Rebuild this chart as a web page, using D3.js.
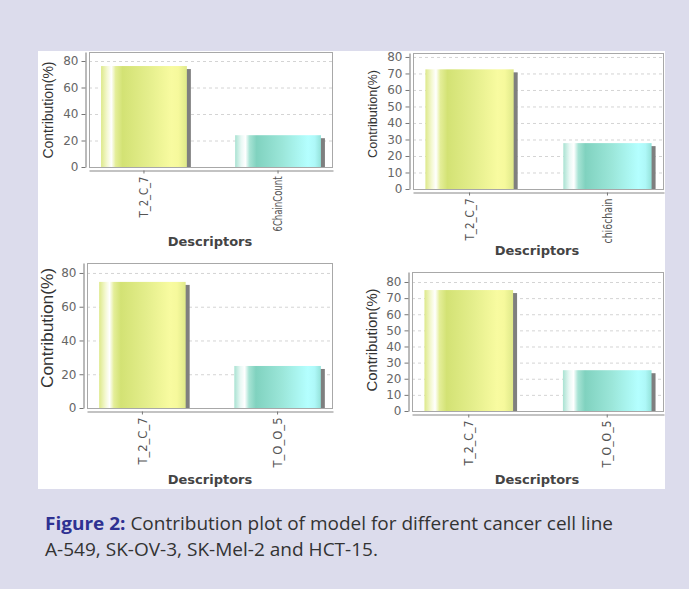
<!DOCTYPE html>
<html lang="en">
<head>
<meta charset="UTF-8">
<title>Contribution plot</title>
<script src="https://d3js.org/d3.v7.min.js"></script>
<style>
  body { margin: 0; background: #dcdcec; }
  svg { display: block; }
  .tick text { font-family: 'DejaVu Sans', sans-serif; }
</style>
</head>
<body>
<svg id="viz" width="689" height="589"></svg>
<script>
// ---- data ----
const categories = [
  ["T_2_C_7", "6ChainCount"],
  ["T_2_C_7", "chi6chain"],
  ["T_2_C_7", "T_O_O_5"],
  ["T_2_C_7", "T_O_O_5"]
];
const contributions = [
  [76.2, 24.0],
  [72.5, 27.8],
  [74.7, 24.9],
  [75.0, 25.3]
];
const yTicks = [
  [0, 20, 40, 60, 80],
  [0, 10, 20, 30, 40, 50, 60, 70, 80],
  [0, 20, 40, 60, 80],
  [0, 10, 20, 30, 40, 50, 60, 70, 80]
];
const yMax = [86.8, 82.4, 85.9, 86.2];
const xTitle = "Descriptors";
const yTitle = "Contribution(%)";
const captionBold = "Figure 2:";
const captionLines = [" Contribution plot of model for different cancer cell line",
                      "A-549, SK-OV-3, SK-Mel-2 and HCT-15."];

// ---- layout (pixel boxes of each panel's plot area) ----
const panels = [
  { x0: 89,  x1: 333, y0: 52,  y1: 167, ylx: 53,  yly: 110, yll: 97,  yfs: 14, xtx: 210, xty: 246, catLen: [41, 55] },
  { x0: 413, x1: 664, y0: 53,  y1: 189, ylx: 377, yly: 114, yll: 88,  yfs: 13, xtx: 537, xty: 255, catLen: [42, 45] },
  { x0: 87,  x1: 333, y0: 263, y1: 408, ylx: 53,  yly: 328, yll: 120, yfs: 16, xtx: 210, xty: 484, catLen: [47, 50] },
  { x0: 412, x1: 664, y0: 272, y1: 411, ylx: 377, yly: 340, yll: 103, yfs: 14, xtx: 537, xty: 484, catLen: [45, 47] }
];

const svg = d3.select("#viz");
svg.append("rect").attr("width", 689).attr("height", 589).attr("fill", "#dcdcec");
svg.append("rect").attr("x", 38).attr("y", 51).attr("width", 627).attr("height", 438).attr("fill", "#ffffff");

const defs = svg.append("defs");
function addGradient(id, stops) {
  const g = defs.append("linearGradient").attr("id", id)
    .attr("x1", "0%").attr("x2", "100%").attr("y1", "0%").attr("y2", "0%");
  stops.forEach(s => g.append("stop").attr("offset", s[0]).attr("stop-color", s[1]));
}
addGradient("barGreen", [[0, "#dde98a"], [0.07, "#f4f8d0"], [0.12, "#ffffff"], [0.17, "#e4ee98"], [0.25, "#d3e274"],
  [0.55, "#e4ee8c"], [0.82, "#f8fba0"], [0.9, "#f6f99c"], [1, "#dfe98a"]]);
addGradient("barCyan", [[0, "#a9e2d2"], [0.07, "#e8f8f4"], [0.12, "#ffffff"], [0.17, "#a6e3d4"], [0.25, "#80d2bf"],
  [0.55, "#9be6d9"], [0.85, "#b4ffff"], [0.93, "#aef8f8"], [1, "#94e2da"]]);
const fills = ["url(#barGreen)", "url(#barCyan)"];

panels.forEach((p, i) => {
  const g = svg.append("g");
  const x = d3.scaleBand().domain(categories[i]).range([p.x0, p.x1])
    .paddingInner(0.36).paddingOuter(0.09);
  const y = d3.scaleLinear().domain([0, yMax[i]]).range([p.y1, p.y0]);
  const rows = categories[i].map((c, j) => ({ cat: c, val: contributions[i][j], k: j }));

  // grid lines
  g.selectAll(".grid").data(yTicks[i]).enter().append("line")
    .attr("x1", p.x0).attr("x2", p.x1)
    .attr("y1", d => y(d) + 0.5).attr("y2", d => y(d) + 0.5)
    .attr("stroke", "#d4d4d4").attr("stroke-width", 1).attr("stroke-dasharray", "3,3");

  // shadows
  g.selectAll(".shadow").data(rows).enter().append("rect")
    .attr("x", d => x(d.cat) + 4).attr("y", d => y(d.val) + 3)
    .attr("width", x.bandwidth()).attr("height", d => p.y1 - y(d.val) - 3)
    .attr("fill", "#7f7f7f");

  // bars
  g.selectAll(".bar").data(rows).enter().append("rect")
    .attr("x", d => x(d.cat)).attr("y", d => y(d.val))
    .attr("width", x.bandwidth()).attr("height", d => p.y1 - y(d.val))
    .attr("fill", d => fills[d.k]);

  // plot outline
  g.append("rect").attr("x", p.x0 + 0.5).attr("y", p.y0 + 0.5)
    .attr("width", p.x1 - p.x0 - 1).attr("height", p.y1 - p.y0)
    .attr("fill", "none").attr("stroke", "#a8a8a8").attr("stroke-width", 1);

  // y axis
  const ya = g.append("g").attr("transform", `translate(${p.x0 - 3.5},0)`)
    .call(d3.axisLeft(y).tickValues(yTicks[i]).tickSize(4).tickSizeOuter(0).tickPadding(3));
  ya.select(".domain").attr("stroke", "#777");
  ya.selectAll(".tick line").attr("stroke", "#777");
  ya.selectAll(".tick text").attr("fill", "#666").attr("font-size", 12);

  // x axis
  const xa = g.append("g").attr("transform", `translate(0,${p.y1 + 3.5})`)
    .call(d3.axisBottom(x).tickSize(3).tickSizeOuter(0));
  xa.select(".domain").attr("stroke", "#888").attr("stroke-width", 1.2);
  xa.selectAll(".tick line").attr("stroke", "#777");
  xa.selectAll(".tick text")
    .attr("font-family", "'Liberation Sans', sans-serif").attr("font-size", 12).attr("fill", "#555")
    .attr("text-anchor", "end").attr("transform", "rotate(-90)")
    .attr("x", -6).attr("y", 0).attr("dy", "0.35em")
    .attr("textLength", (d, j) => p.catLen[j]).attr("lengthAdjust", "spacingAndGlyphs");

  // axis titles
  g.append("text").attr("x", p.xtx).attr("y", p.xty).attr("text-anchor", "middle")
    .attr("font-family", "'DejaVu Sans', sans-serif").attr("font-weight", "bold")
    .attr("font-size", 13).attr("fill", "#444").text(xTitle);
  g.append("text").attr("transform", `translate(${p.ylx},${p.yly}) rotate(-90)`)
    .attr("text-anchor", "middle")
    .attr("font-family", "'Liberation Sans', sans-serif").attr("font-size", p.yfs)
    .attr("fill", "#333").attr("textLength", p.yll).attr("lengthAdjust", "spacingAndGlyphs")
    .text(yTitle);
});

// caption
const cap1 = svg.append("text").attr("x", 45).attr("y", 530)
  .attr("font-family", "'Open Sans', sans-serif").attr("font-size", 18)
  .attr("textLength", 568).attr("lengthAdjust", "spacingAndGlyphs");
cap1.append("tspan").attr("font-weight", "bold").attr("fill", "#2e3192").text(captionBold);
cap1.append("tspan").attr("fill", "#333").text(captionLines[0]);
svg.append("text").attr("x", 45).attr("y", 556)
  .attr("font-family", "'Open Sans', sans-serif").attr("font-size", 18).attr("fill", "#333")
  .attr("textLength", 333).attr("lengthAdjust", "spacingAndGlyphs")
  .text(captionLines[1]);
</script>
</body>
</html>
